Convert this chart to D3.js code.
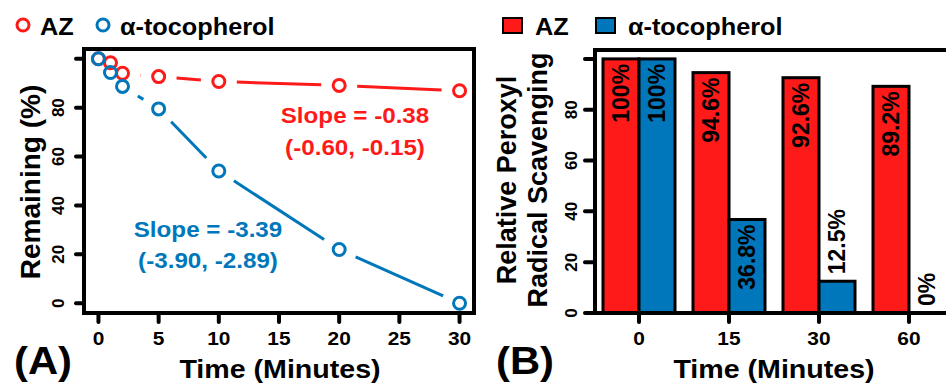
<!DOCTYPE html>
<html>
<head>
<meta charset="utf-8">
<script src="https://cdn.jsdelivr.net/npm/d3@7"></script>
<style>
  body { margin: 0; background: #fff; }
  svg { display: block; font-family: "Liberation Sans", Arial, sans-serif; font-weight: bold; }
</style>
</head>
<body>
<div id="chart"></div>
<script>
// panel A data
const timeA = [0, 1, 2, 5, 10, 20, 30];
const azRemaining = [100, 98.4, 94.1, 92.7, 90.7, 89.1, 86.9];
const tocRemaining = [100, 94.4, 88.7, 79.5, 54.1, 22.0, 0];
const xTicksA = [0, 5, 10, 15, 20, 25, 30];
const yTicks = [0, 20, 40, 60, 80, 100];
const yTickLabels = ['0', '20', '40', '60', '80', ''];
const azSlope = ['Slope = -0.38', '(-0.60, -0.15)'];
const tocSlope = ['Slope = -3.39', '(-3.90, -2.89)'];

// panel B data
const timeB = ['0', '15', '30', '60'];
const azScavenging = [100, 94.6, 92.6, 89.2];
const tocScavenging = [100, 36.8, 12.5, 0];
const seriesNames = ['AZ', 'α-tocopherol'];

const RED = '#ff1a1a';
const BLUE = '#0077bb';
const SX = 1.1; // text in the figure is a bit wide

const svg = d3.select('#chart').append('svg')
  .attr('width', 946)
  .attr('height', 385);

// horizontal text, slightly stretched
function htext(g, x, y, str, size, anchor, color) {
  return g.append('text')
    .attr('transform', `translate(${x},${y}) scale(${SX},1)`)
    .attr('text-anchor', anchor)
    .attr('font-size', size)
    .attr('fill', color || '#000')
    .text(str);
}
function vtext(g, x, y, str, size, anchor, color) {
  return g.append('text')
    .attr('transform', `translate(${x},${y}) rotate(-90)`)
    .attr('text-anchor', anchor)
    .attr('dy', '0.35em')
    .attr('font-size', size)
    .attr('fill', color || '#000')
    .text(str);
}

// ---------- Panel A ----------
const xA = d3.scaleLinear().domain([-1.2, 31.2]).range([84, 474]);
const yA = d3.scaleLinear().domain([-4, 104]).range([313, 49]);
const gA = svg.append('g');

gA.append('rect')
  .attr('x', xA.range()[0]).attr('y', yA.range()[1])
  .attr('width', xA.range()[1] - xA.range()[0])
  .attr('height', yA.range()[0] - yA.range()[1])
  .attr('fill', 'none').attr('stroke', '#000').attr('stroke-width', 4);

// y ticks
gA.selectAll('.ytick').data(yTicks).enter().append('line')
  .attr('x1', 76).attr('x2', 84)
  .attr('y1', d => yA(d)).attr('y2', d => yA(d))
  .attr('stroke', '#000').attr('stroke-width', 4).attr('stroke-linecap', 'round');
yTicks.forEach((t, i) => vtext(gA, 58, yA(t), yTickLabels[i], 17, 'middle'));

// x ticks
gA.selectAll('.xtick').data(xTicksA).enter().append('line')
  .attr('x1', d => xA(d)).attr('x2', d => xA(d))
  .attr('y1', 313).attr('y2', 322)
  .attr('stroke', '#000').attr('stroke-width', 4).attr('stroke-linecap', 'round');
xTicksA.forEach(t => htext(gA, xA(t), 345, String(t), 19, 'middle'));

htext(gA, 280, 378, 'Time (Minutes)', 26, 'middle');
vtext(gA, 30, 182, 'Remaining (%)', 28, 'middle');
htext(gA, 14, 374, '(A)', 38, 'start');

// lines between points, leaving a gap round each point
function gappedLines(g, values, color) {
  const pts = timeA.map((t, i) => [xA(t), yA(values[i])]);
  const gap = 18;
  for (let i = 0; i < pts.length - 1; i++) {
    const [x0, y0] = pts[i], [x1, y1] = pts[i + 1];
    const len = Math.hypot(x1 - x0, y1 - y0);
    if (len <= 2 * gap) continue;
    const ux = (x1 - x0) / len, uy = (y1 - y0) / len;
    g.append('line')
      .attr('x1', x0 + ux * gap).attr('y1', y0 + uy * gap)
      .attr('x2', x1 - ux * gap).attr('y2', y1 - uy * gap)
      .attr('stroke', color).attr('stroke-width', 3);
  }
  g.selectAll(null).data(values).enter().append('circle')
    .attr('cx', (d, i) => xA(timeA[i]))
    .attr('cy', d => yA(d))
    .attr('r', 6)
    .attr('fill', 'none')
    .attr('stroke', color)
    .attr('stroke-width', 3);
}
gappedLines(gA, azRemaining, RED);
gappedLines(gA, tocRemaining, BLUE);

htext(gA, 355, 123, azSlope[0], 22, 'middle', RED);
htext(gA, 355, 155, azSlope[1], 22, 'middle', RED);
htext(gA, 208, 237, tocSlope[0], 22, 'middle', BLUE);
htext(gA, 208, 268, tocSlope[1], 22, 'middle', BLUE);

// legend A
[RED, BLUE].forEach((c, i) => {
  const lx = [23, 103][i];
  gA.append('circle').attr('cx', lx).attr('cy', 25).attr('r', 6)
    .attr('fill', 'none').attr('stroke', c).attr('stroke-width', 3);
  htext(gA, lx + 17, 35, seriesNames[i], 23, 'start');
});

// ---------- Panel B ----------
const xB = d3.scaleBand().domain(timeB).range([585, 963]).padding(0.2);
const xSub = d3.scaleBand().domain(seriesNames).range([0, xB.bandwidth()]);
const yB = d3.scaleLinear().domain([0, 103.5]).range([313, 50]);
const gB = svg.append('g');

gB.append('rect')
  .attr('x', 595).attr('y', yB.range()[1])
  .attr('width', 400)
  .attr('height', yB.range()[0] - yB.range()[1])
  .attr('fill', 'none').attr('stroke', '#000').attr('stroke-width', 4);

const barData = [];
timeB.forEach((t, i) => {
  barData.push({ t, s: seriesNames[0], v: azScavenging[i], c: RED });
  barData.push({ t, s: seriesNames[1], v: tocScavenging[i], c: BLUE });
});

gB.selectAll('.bar').data(barData.filter(d => d.v > 0)).enter().append('rect')
  .attr('x', d => xB(d.t) + xSub(d.s))
  .attr('y', d => yB(d.v))
  .attr('width', xSub.bandwidth())
  .attr('height', d => yB(0) - yB(d.v))
  .attr('fill', d => d.c)
  .attr('stroke', '#000').attr('stroke-width', 3);

barData.forEach(d => {
  const cx = xB(d.t) + xSub(d.s) + xSub.bandwidth() / 2;
  const label = (d.v === 100 || d.v === 0 ? d.v : d.v.toFixed(1)) + '%';
  if (d.v > 30) vtext(gB, cx, yB(d.v) + 5, label, 23, 'end');
  else vtext(gB, cx, yB(d.v) - 7, label, 23, 'start');
});

// bottom line and ticks
gB.append('line').attr('x1', 585).attr('x2', 946).attr('y1', 313).attr('y2', 313)
  .attr('stroke', '#000').attr('stroke-width', 4);
gB.selectAll('.ytick').data(yTicks).enter().append('line')
  .attr('x1', 585).attr('x2', 595)
  .attr('y1', d => yB(d)).attr('y2', d => yB(d))
  .attr('stroke', '#000').attr('stroke-width', 4).attr('stroke-linecap', 'round');
yTicks.forEach((t, i) => vtext(gB, 571, yB(t), yTickLabels[i], 17, 'middle'));

gB.selectAll('.xtick').data(timeB).enter().append('line')
  .attr('x1', d => xB(d) + xB.bandwidth() / 2).attr('x2', d => xB(d) + xB.bandwidth() / 2)
  .attr('y1', 313).attr('y2', 322)
  .attr('stroke', '#000').attr('stroke-width', 4).attr('stroke-linecap', 'round');
timeB.forEach(t => htext(gB, xB(t) + xB.bandwidth() / 2, 345, t, 19, 'middle'));

htext(gB, 774, 378, 'Time (Minutes)', 26, 'middle');
vtext(gB, 507, 180, 'Relative Peroxyl', 27, 'middle');
vtext(gB, 538, 180, 'Radical Scavenging', 27, 'middle');
htext(gB, 496, 374, '(B)', 38, 'start');

// legend B
[RED, BLUE].forEach((c, i) => {
  const lx = [503, 596][i];
  gB.append('rect').attr('x', lx).attr('y', 18).attr('width', 19).attr('height', 15)
    .attr('fill', c).attr('stroke', '#000').attr('stroke-width', 2);
  htext(gB, lx + 32, 35, seriesNames[i], 23, 'start');
});
</script>
</body>
</html>
